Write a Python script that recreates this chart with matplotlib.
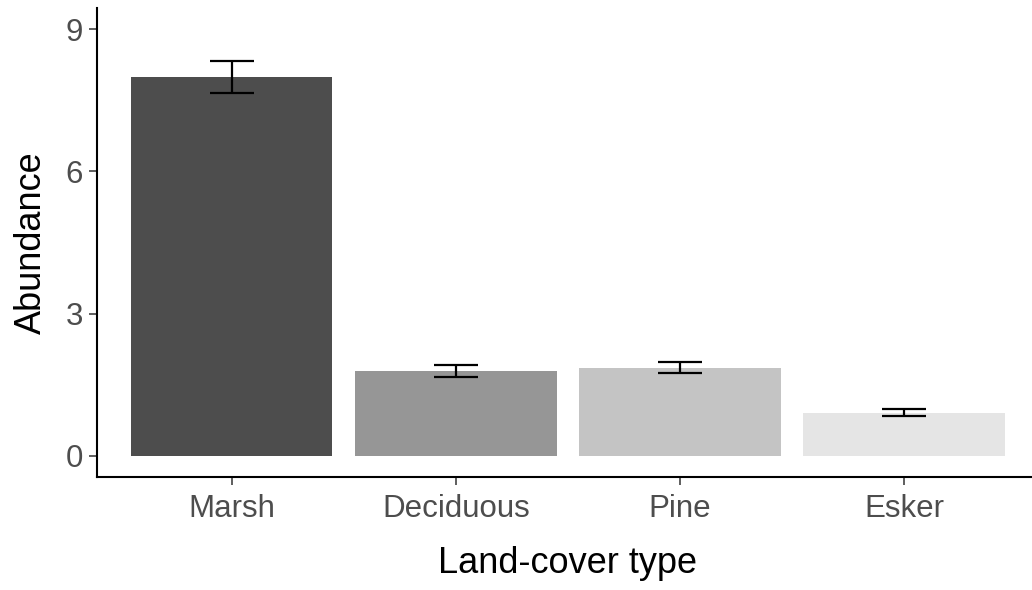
import numpy as np
import matplotlib
matplotlib.use("Agg")
import matplotlib.pyplot as plt

# values
landcover = ["Marsh", "Deciduous", "Pine", "Esker"]
abundance = [8.0, 1.79, 1.86, 0.91]
se = [0.34, 0.125, 0.12, 0.07]
fills = ["#4d4d4d", "#969696", "#c4c4c4", "#e5e5e5"]

plt.rcParams['font.family'] = ['Liberation Sans', 'DejaVu Sans']

fig = plt.figure(figsize=(10.32, 5.90), dpi=100)
ax = fig.add_axes([0.094, 0.1915, 0.9125, 0.795])

x = np.arange(1, len(landcover) + 1)
ax.bar(x, abundance, width=0.9, color=fills, edgecolor="none", zorder=2)
ax.errorbar(x, abundance, yerr=se, fmt="none", ecolor="black",
            elinewidth=1.6, capsize=16, capthick=1.6, zorder=3)

ax.set_xlim(0.4, 4.6)
ax.set_ylim(-0.45, 9.45)
ax.set_xticks(x)
ax.set_xticklabels(landcover)
ax.set_yticks([0, 3, 6, 9])

for side in ["top", "right"]:
    ax.spines[side].set_visible(False)
for side in ["left", "bottom"]:
    ax.spines[side].set_linewidth(1.5)
    ax.spines[side].set_color("black")

ax.tick_params(axis="both", length=6, width=1.1, color="#333333",
               labelsize=22.5, labelcolor="#4d4d4d", pad=4)
ax.tick_params(axis="x", pad=6)

ax.set_xlabel("Land-cover type", fontsize=26, color="black", labelpad=16)
ax.set_ylabel("Abundance", fontsize=26, color="black", labelpad=12)

fig.savefig("out.png", dpi=100)
